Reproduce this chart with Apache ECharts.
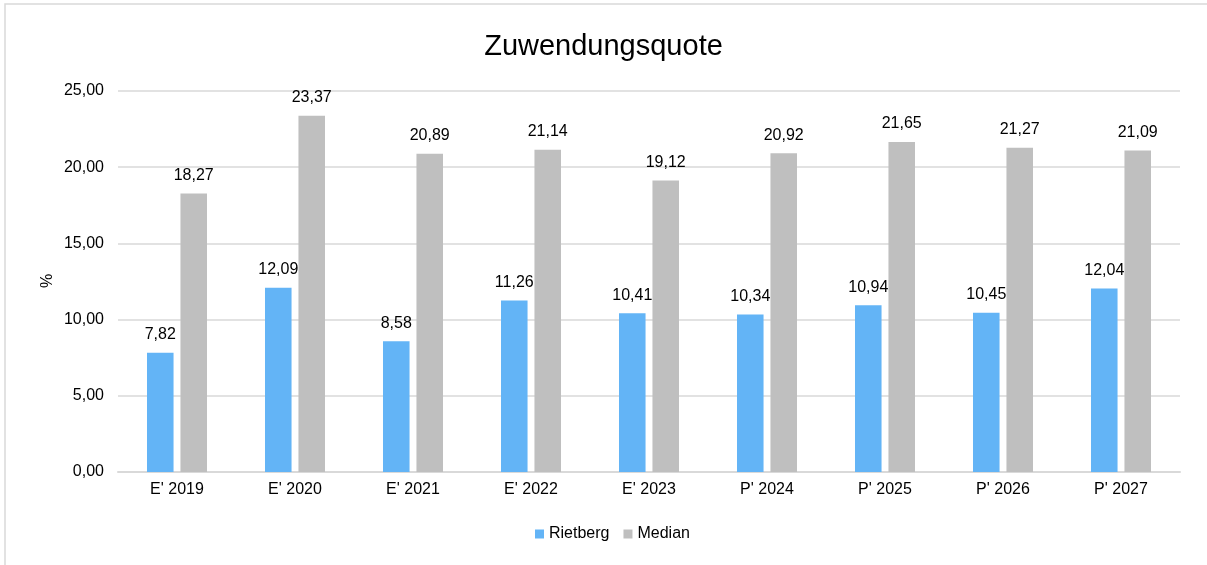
<!DOCTYPE html>
<html><head><meta charset="utf-8">
<script src="https://cdn.jsdelivr.net/npm/echarts@6/dist/echarts.min.js"></script>
<style>html,body{margin:0;padding:0;background:#fff}#c{width:1207px;height:565px}</style>
</head><body><div id="c"></div>
<script>
const categories = ["E' 2019","E' 2020","E' 2021","E' 2022","E' 2023","P' 2024","P' 2025","P' 2026","P' 2027"];
const rietberg = [7.82,12.09,8.58,11.26,10.41,10.34,10.94,10.45,12.04];
const median = [18.27,23.37,20.89,21.14,19.12,20.92,21.65,21.27,21.09];
const yTicks = [0,5,10,15,20,25];
const yAxisName = '%';
const fmt = v => v.toFixed(2).replace('.', ',');
const chart = echarts.init(document.getElementById('c'), null, {renderer:'canvas'});
const font = 'Liberation Sans, Arial, sans-serif';
chart.setOption({
  animation:false,
  textStyle:{fontFamily:font},
  graphic:[
    {type:'rect',shape:{x:5,y:4,width:1400,height:800},style:{fill:'none',stroke:'#D9D9D9',lineWidth:1.5},silent:true,z:-1},
    {type:'text',x:48,y:281,rotation:Math.PI/2,style:{text:yAxisName,fontSize:16,fontFamily:font,fill:'#000',align:'center',verticalAlign:'middle'},silent:true}
  ],
  title:{text:'Zuwendungsquote',left:'center',top:27,textStyle:{fontFamily:font,fontSize:29,fontWeight:'normal',color:'#000'}},
  legend:{bottom:18,left:530,itemWidth:9,itemHeight:9,itemGap:14,icon:'rect',textStyle:{fontFamily:font,fontSize:16,color:'#000'},
    data:['Rietberg','Median']},
  grid:{left:118,right:27,top:91,bottom:93},
  xAxis:{type:'category',data:categories,axisTick:{show:false},axisLine:{lineStyle:{color:'#D9D9D9',width:2}},
    axisLabel:{color:'#000',fontSize:16,margin:10,fontFamily:font}},
  yAxis:{type:'value',min:yTicks[0],max:yTicks[yTicks.length-1],interval:5,
    axisLine:{show:false},axisTick:{show:false},
    axisLabel:{color:'#000',fontSize:16,margin:14,formatter:fmt,fontFamily:font},
    splitLine:{lineStyle:{color:'#D9D9D9',width:1.5}}},
  series:[
    {name:'Rietberg',type:'bar',data:rietberg,barWidth:'22.5%',barGap:'26%',itemStyle:{color:'#63B4F6'},
     label:{show:true,position:'top',distance:10,color:'#000',fontSize:16,fontFamily:font,formatter:p=>fmt(p.value)}},
    {name:'Median',type:'bar',data:median,barWidth:'22.5%',itemStyle:{color:'#BFBFBF'},
     label:{show:true,position:'top',distance:10,color:'#000',fontSize:16,fontFamily:font,formatter:p=>fmt(p.value)}}
  ]
});
</script></body></html>
